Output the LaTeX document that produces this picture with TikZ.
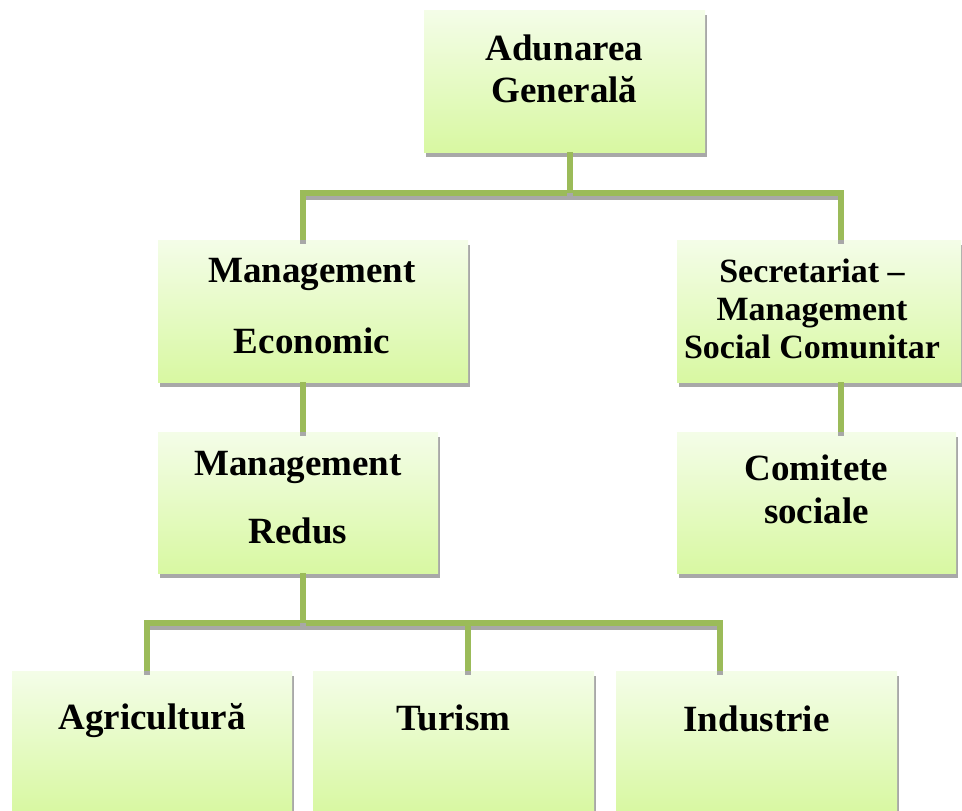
\documentclass[tikz,border=0pt]{standalone}
\usepackage{fontspec}
\setmainfont{Liberation Serif}
\usetikzlibrary{shadows}
\definecolor{conngreen}{HTML}{9BBB59}
\definecolor{shadegrey}{HTML}{A8A8A8}
\definecolor{boxtop}{HTML}{F4FDE8}
\definecolor{boxbottom}{HTML}{D8F8A2}
\tikzset{
  orgbox/.style={rectangle, inner sep=0pt, outer sep=0pt, top color=boxtop, bottom color=boxbottom,
    drop shadow={shadow xshift=1.5pt, shadow yshift=-5pt, fill=shadegrey, opacity=1}},
  txt/.style={inner sep=0pt, anchor=base, font=\fontsize{37}{42}\selectfont\bfseries},
  smalltxt/.style={txt, font=\fontsize{34}{40}\selectfont\bfseries},
  conn/.style={draw=conngreen, line width=6pt, line join=miter,
    preaction={draw=shadegrey, line width=6pt, transform canvas={yshift=-3.5pt}}}
}
\begin{document}
\begin{tikzpicture}[x=1pt,y=-1pt]
\useasboundingbox (0,0) rectangle (962,811);
% boxes
\node[orgbox, minimum width=281pt, minimum height=142pt] (top) at (564.5,81) {};
\node[orgbox, minimum width=310pt, minimum height=142pt] (eco) at (313,311) {};
\node[orgbox, minimum width=284pt, minimum height=142pt] (sec) at (819,311) {};
\node[orgbox, minimum width=280pt, minimum height=141pt] (red) at (298,502.5) {};
\node[orgbox, minimum width=279pt, minimum height=141pt] (com) at (816.5,502.5) {};
\node[orgbox, minimum width=280pt, minimum height=141pt] (agr) at (152,741.5) {};
\node[orgbox, minimum width=281pt, minimum height=141pt] (tur) at (453.5,741.5) {};
\node[orgbox, minimum width=281pt, minimum height=141pt] (ind) at (756.5,741.5) {};
% texts
\node[txt] (topa) at (564.5,60) {Adunarea};
\node[txt] (topb) at (564.5,102) {Generală};
\node[txt] (ecoa) at (312,282) {Management};
\node[txt] (ecob) at (312,353) {Economic};
\node[smalltxt] (seca) at (812,282) {Secretariat –};
\node[smalltxt] (secb) at (812,320) {Management};
\node[smalltxt] (secc) at (812,358) {Social Comunitar};
\node[txt] (reda) at (298,475) {Management};
\node[txt] (redb) at (298,543) {Redus};
\node[txt] (coma) at (816.5,480) {Comitete};
\node[txt] (comb) at (816.5,523) {sociale};
\node[txt] (agrt) at (152,729) {Agricultură};
\node[txt] (turt) at (453.5,730) {Turism};
\node[txt] (indt) at (756.5,731) {Industrie};
% junctions
\coordinate (j1) at (570,193);
\coordinate (jl) at (303,193);
\coordinate (jr) at (841,193);
\coordinate (j2) at (303,623);
\coordinate (jb1) at (147,623);
\coordinate (jb2) at (468,623);
\coordinate (jb3) at (720,623);
% connectors
\draw[conn] (eco.north -| jl) -- (jl) -- (jr) -- (sec.north -| jr);
\draw[conn] (top.south -| j1) -- (j1);
\draw[conn] (eco.south -| jl) -- (red.north -| jl);
\draw[conn] (sec.south -| jr) -- (com.north -| jr);
\draw[conn] (agr.north -| jb1) -- (jb1) -- (jb3) -- (ind.north -| jb3);
\draw[conn] (tur.north -| jb2) -- (jb2);
\draw[conn] (red.south -| j2) -- (j2);
\end{tikzpicture}
\end{document}
